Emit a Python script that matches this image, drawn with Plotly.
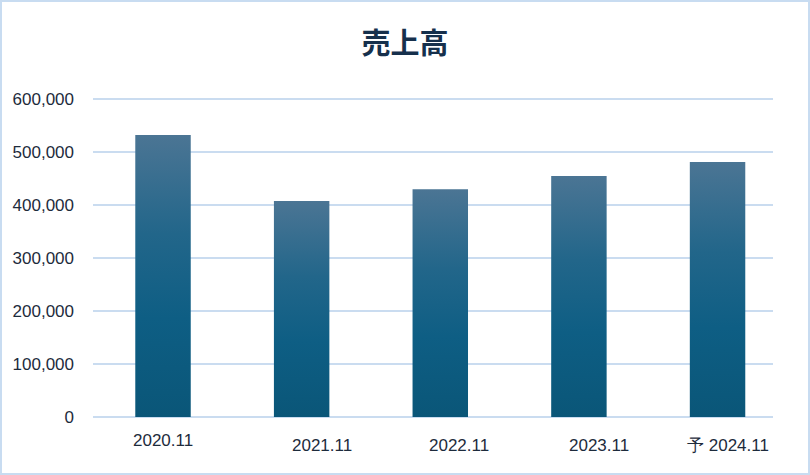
import plotly.graph_objects as go

categories = ["2020.11", "2021.11", "2022.11", "2023.11", "予 2024.11"]
sales = [532000, 407500, 430000, 455000, 481000]
y_tickvals = [0, 100000, 200000, 300000, 400000, 500000, 600000]
y_ticktext = ["0", "100,000", "200,000", "300,000", "400,000", "500,000", "600,000"]

# layout-only settings
bar_width = 0.40
label_xshift = [0, 20, 19, 20, 10]
label_yshift = [0, -5, -5, -5, -5]
grad = [[0.0, "#0a5678"], [0.35, "#0e5e84"], [0.65, "#22668a"], [1.0, "#4b7594"]]
text_color = "#1d2b3c"
grid_color = "#cadcf0"

fig = go.Figure()
for i, (cat, v) in enumerate(zip(categories, sales)):
    x0, x1 = i - bar_width / 2, i + bar_width / 2
    fig.add_trace(go.Scatter(
        x=[x0, x1, x1, x0, x0], y=[0, 0, v, v, 0],
        mode="lines", fill="toself", line=dict(width=0),
        fillgradient=dict(type="vertical", colorscale=grad),
        name=cat, hoverinfo="text", text=f"{cat}: {v:,}", showlegend=False,
    ))

for i, cat in enumerate(categories):
    fig.add_annotation(
        x=i, y=0, xref="x", yref="paper", text=cat, showarrow=False,
        yanchor="top", xanchor="center", yshift=-12 + label_yshift[i], xshift=label_xshift[i],
        font=dict(family="Liberation Sans, Arial, sans-serif", size=17, color=text_color),
    )

# figure border (plot area: x 93..773, y 98..417)
fig.add_shape(type="rect", xref="paper", yref="paper",
              x0=(1 - 93) / 680, x1=(809 - 93) / 680,
              y0=(417 - 474) / 319, y1=(417 - 1) / 319,
              line=dict(color="#c8dcf1", width=2), fillcolor="rgba(0,0,0,0)", layer="below")

fig.update_layout(
    width=810, height=475,
    margin=dict(l=93, r=37, t=98, b=58),
    paper_bgcolor="white", plot_bgcolor="white",
    title=dict(text="<b>売上高</b>", x=0.5, xanchor="center", y=1 - 44 / 475, yanchor="middle",
               font=dict(family="Noto Sans CJK JP, sans-serif", size=29, color="#16304c")),
    xaxis=dict(range=[-0.505, 4.40], showgrid=False, zeroline=False, showticklabels=False,
               showline=False, fixedrange=True),
    yaxis=dict(range=[0, 602000], tickvals=y_tickvals, ticktext=y_ticktext,
               showgrid=True, gridcolor=grid_color, gridwidth=2,
               zeroline=True, zerolinecolor=grid_color, zerolinewidth=2,
               showline=False, ticks="", ticklabelstandoff=18,
               tickfont=dict(family="Liberation Sans, Arial, sans-serif", size=17, color=text_color)),
)

fig.write_html("out.html", config={"displayModeBar": False},
               post_script="document.body.style.margin='0';")
